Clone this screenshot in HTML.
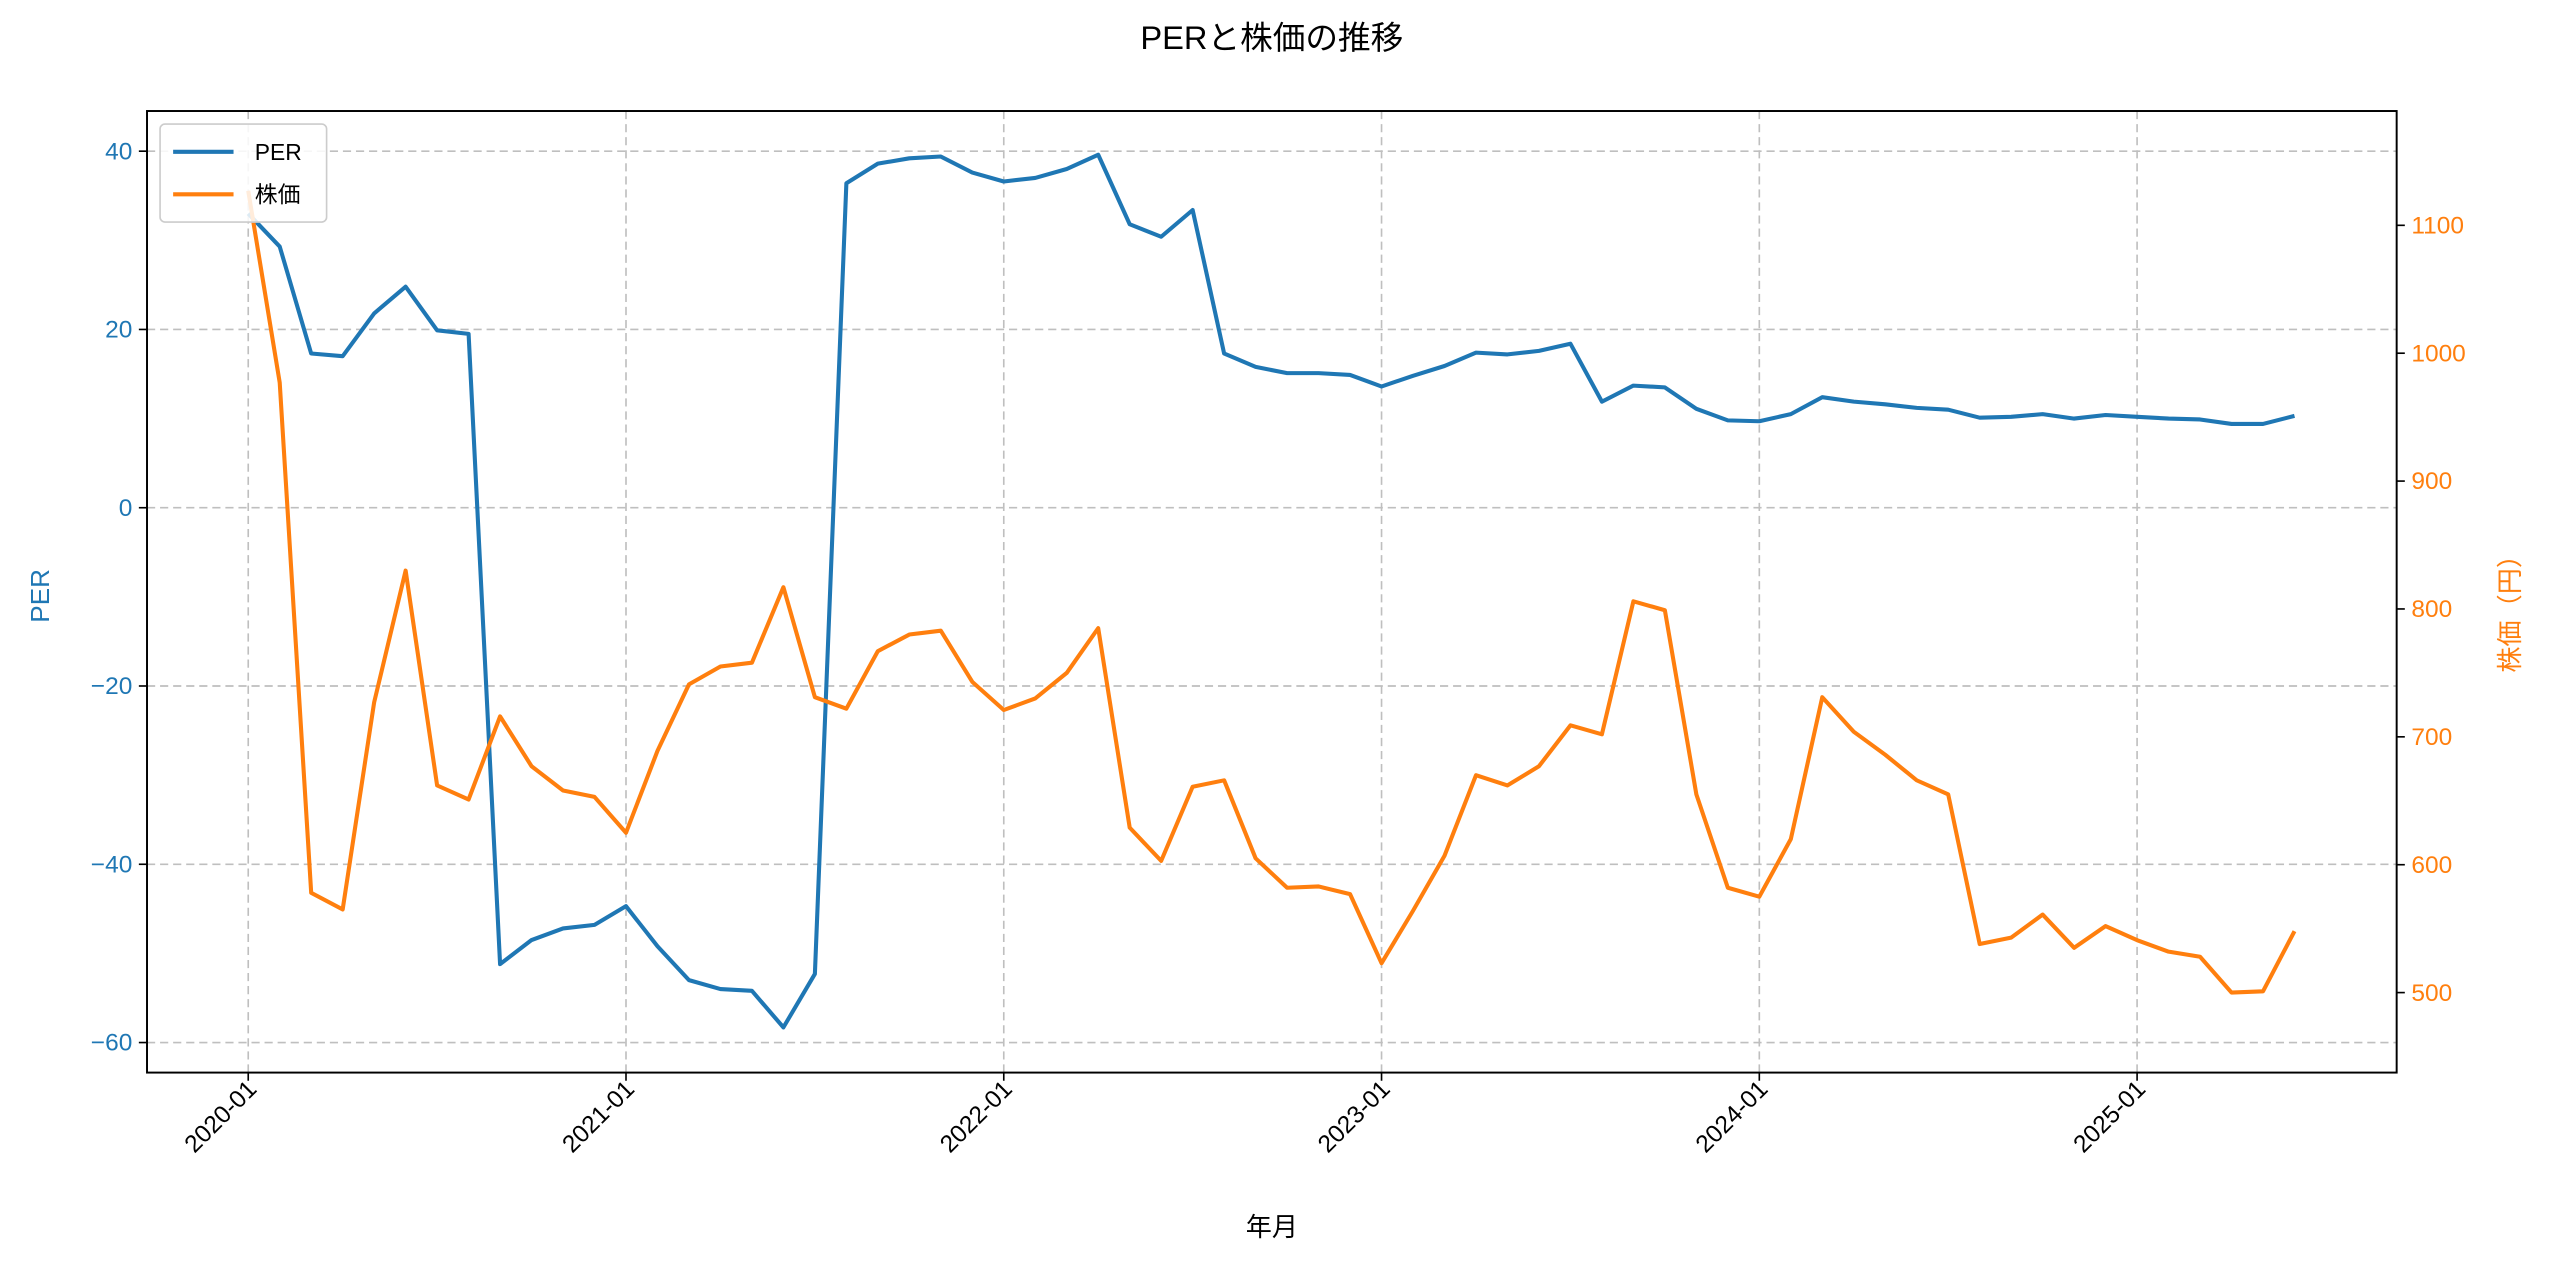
<!DOCTYPE html>
<html><head><meta charset="utf-8"><style>
html,body{margin:0;padding:0;background:#fff;}
svg{display:block;font-family:"Liberation Sans","Noto Sans CJK JP",sans-serif;}
</style></head><body>
<svg id="chart" width="2560" height="1268" viewBox="0 0 1568 776.7" xmlns="http://www.w3.org/2000/svg">
<rect width="1568" height="777" fill="#fff"/>
<text x="779" y="30" text-anchor="middle" font-size="20" fill="#000">PERと株価の推移</text>
<g id="grid"></g>
<g id="series"></g>
<rect x="90" y="68" width="1378" height="589" fill="none" stroke="#000" stroke-width="1.2"/>
<g id="axes"></g>
<text transform="translate(30,365) rotate(-90)" text-anchor="middle" font-size="16" fill="#1f77b4">PER</text>
<text transform="translate(1543,372) rotate(-90)" text-anchor="middle" font-size="16" fill="#ff7f0e">株価（円）</text>
<text x="779" y="757" text-anchor="middle" font-size="16" fill="#000">年月</text>
<g>
<rect x="98" y="76" width="102" height="60" rx="3" fill="#fff" fill-opacity="0.85" stroke="#ccc"/>
<line x1="106" y1="93" x2="143" y2="93" stroke="#1f77b4" stroke-width="2.5"/>
<text x="156" y="98" font-size="14">PER</text>
<line x1="106" y1="119" x2="143" y2="119" stroke="#ff7f0e" stroke-width="2.5"/>
<text x="156" y="124" font-size="14">株価</text>
</g>
</svg>
<script>
const perValues=[33,29.3,17.3,17,21.8,24.8,19.9,19.5,-51.2,-48.5,-47.2,-46.8,-44.7,-49.2,-53,-54,-54.2,-58.3,-52.3,36.4,38.6,39.2,39.4,37.6,36.6,37,38,39.6,31.8,30.4,33.4,17.3,15.8,15.1,15.1,14.9,13.6,14.8,15.9,17.4,17.2,17.6,18.4,11.9,13.7,13.5,11.1,9.8,9.7,10.5,12.4,11.9,11.6,11.2,11,10.1,10.2,10.5,10,10.4,10.2,10,9.9,9.4,9.4,10.3];
const priceValues=[1127,977,578,565,727,830,662,651,716,677,658,653,625,689,741,755,758,817,731,722,767,780,783,743,721,730,750,785,629,603,661,666,605,582,583,577,523,564,607,670,662,677,709,702,806,799,655,582,575,620,731,704,686,666,655,538,543,561,535,552,541,532,528,500,501,548];
const startYear=2020,startMonth=1;
const xTickLabels=["2020-01","2021-01","2022-01","2023-01","2024-01","2025-01"];
const leftTicks=[-60,-40,-20,0,20,40];
const rightTicks=[500,600,700,800,900,1000,1100];
const NS="http://www.w3.org/2000/svg";
function xOf(i){return 152+i*(1309-152)/60;}
function yL(v){return 311-v*5.46;}
function yR(v){return 608-(v-500)*0.7833;}
function mk(tag,attrs,parent){const e=document.createElementNS(NS,tag);for(const k in attrs)e.setAttribute(k,attrs[k]);parent.appendChild(e);return e;}
const grid=document.getElementById('grid'),axes=document.getElementById('axes'),series=document.getElementById('series');
xTickLabels.forEach((lab,k)=>{
  const parts=lab.split('-');const idx=(+parts[0]-startYear)*12+(+parts[1]-startMonth);const x=xOf(idx);
  const g=mk('line',{x1:x,y1:68,x2:x,y2:657,stroke:'#bfbfbf','stroke-dasharray':'5,3','stroke-width':1},grid);
  
  
  const t=mk('line',{x1:x,y1:657,x2:x,y2:662,stroke:'#000'},axes);
  
  
  const tx=mk('text',{transform:`translate(${x+6},${668}) rotate(-45)`,'text-anchor':'end','font-size':15},axes);
  tx.textContent=lab;
  
  
});
leftTicks.forEach(v=>{
  const y=yL(v);
  const g=mk('line',{x1:90,y1:y,x2:1468,y2:y,stroke:'#bfbfbf','stroke-dasharray':'5,3','stroke-width':1},grid);
  
  
  mk('line',{x1:85,y1:y,x2:90,y2:y,stroke:'#000'},axes);
  const tx=mk('text',{x:81,y:y+5,'text-anchor':'end','font-size':15,fill:'#1f77b4'},axes);
  tx.textContent=v<0?'\u2212'+Math.abs(v):String(v);
  
  
});
rightTicks.forEach(v=>{
  const y=yR(v);
  mk('line',{x1:1468,y1:y,x2:1473,y2:y,stroke:'#000'},axes);
  const tx=mk('text',{x:1477,y:y+5,'font-size':15,fill:'#ff7f0e'},axes);
  tx.textContent=String(v);
  
  
});
const p1=mk('polyline',{points:perValues.map((v,i)=>xOf(i)+','+yL(v)).join(' '),fill:'none',stroke:'#1f77b4','stroke-width':2.5,'stroke-linejoin':'round'},series);


const p2=mk('polyline',{points:priceValues.map((v,i)=>xOf(i)+','+yR(v)).join(' '),fill:'none',stroke:'#ff7f0e','stroke-width':2.5,'stroke-linejoin':'round'},series);


</script>
</body></html>
